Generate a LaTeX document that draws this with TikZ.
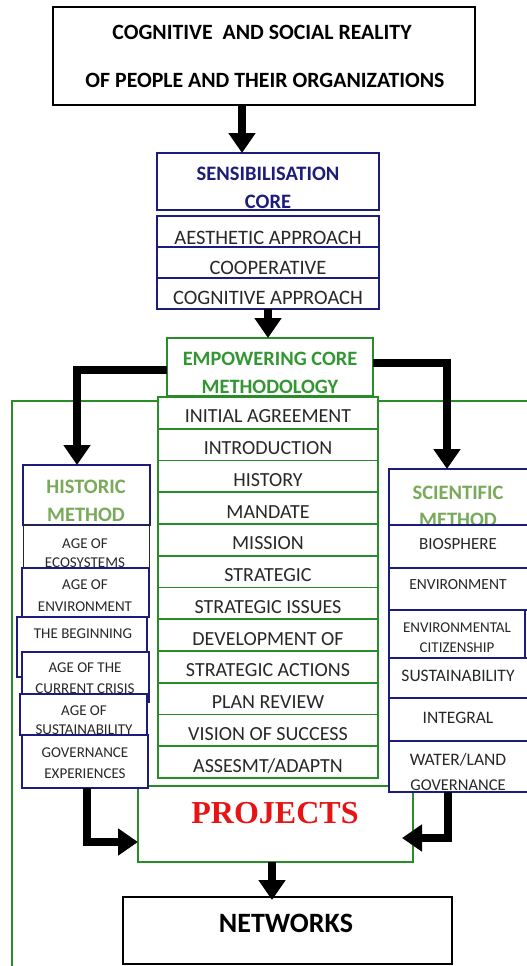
\documentclass[tikz,border=0pt]{standalone}
\usepackage{fontspec}
\setmainfont{Carlito}
\newfontfamily\projfont{Liberation Serif}
\usetikzlibrary{arrows.meta}
\definecolor{navy}{RGB}{28,28,125}
\definecolor{gr}{RGB}{40,140,40}
\definecolor{emptxt}{RGB}{50,150,50}
\definecolor{histtxt}{RGB}{120,170,90}
\definecolor{txtgray}{RGB}{40,40,40}
\definecolor{projred}{RGB}{230,20,20}
\begin{document}
\begin{tikzpicture}[x=1pt,y=-1pt,
  box/.style={draw,fill=white,inner sep=0pt,outer sep=0pt},
  nbox/.style={box,draw=navy,line width=1.8pt},
  gbox/.style={box,draw=gr,line width=1.8pt},
  kbox/.style={box,draw=black,line width=2.2pt},
  lbl/.style={inner sep=0pt,text=txtgray,font=\fontsize{#1}{#1}\selectfont},
  lbl/.default=20,
  hdr/.style={inner sep=0pt,font=\bfseries\fontsize{#1}{#1}\selectfont},
  bigarrow/.style={draw=black,line width=8pt,-{Triangle[width=26pt,length=20pt]}}]
\useasboundingbox (0,0) rectangle (527,966);
% big green frame
\draw[gr,line width=1.8pt] (12,990) -- (12,401) -- (560,401);
% top box
\node[kbox,minimum width=422pt,minimum height=98pt] (top) at (264,56) {};
\node[hdr=21.8] (top1) at (262,32) {COGNITIVE\ \ AND SOCIAL REALITY};
\node[hdr=21.8] (top2) at (265,80) {OF PEOPLE AND THEIR ORGANIZATIONS};
% sensibilisation
\node[nbox,minimum width=222pt,minimum height=57pt] (sens) at (268,181.5) {};
\node[hdr=20.5,text=navy] (sens1) at (268,174) {SENSIBILISATION};
\node[hdr=20.5,text=navy] (sens2) at (268,202) {CORE};
\node[nbox,minimum width=222pt,minimum height=31pt] (s1) at (268,231.5) {};
\node[nbox,minimum width=222pt,minimum height=31pt] (s2) at (268,262.5) {};
\node[nbox,minimum width=222pt,minimum height=31pt] (s3) at (268,293.5) {};
\node[lbl=20.5] (s1t) at (268,238) {AESTHETIC APPROACH};
\node[lbl=20.5] (s2t) at (268,268) {COOPERATIVE};
\node[lbl=20.5] (s3t) at (268,298) {COGNITIVE APPROACH};
% empowering
\node[gbox,minimum width=206pt,minimum height=58pt] (emp) at (270,367) {};
\node[hdr=20.4,text=emptxt] (emp1) at (270,359) {EMPOWERING CORE};
\node[hdr=20.4,text=emptxt] (emp2) at (270,387) {METHODOLOGY};
% center column
\foreach \t [count=\i] in {INITIAL AGREEMENT,INTRODUCTION,HISTORY,MANDATE,MISSION,STRATEGIC,STRATEGIC ISSUES,DEVELOPMENT OF,STRATEGIC ACTIONS,PLAN REVIEW,VISION OF SUCCESS,ASSESMT/ADAPTN}{
  \node[gbox,minimum width=220pt,minimum height=31.75pt] (c\i) at (268,{397+31.75*(\i-0.5)}) {};
  \node[lbl=20] (c\i t) at (268,{400.5+31.75*(\i-0.5)}) {\t};
}
% projects
\node[gbox,minimum width=275pt,minimum height=76pt] (proj) at (275.5,824) {};
\node[inner sep=0pt,text=projred,font=\projfont\bfseries\fontsize{32}{32}\selectfont] (projt) at (275,813) {PROJECTS};
% networks
\node[box,draw=black,line width=1.8pt,minimum width=329pt,minimum height=67pt] (net) at (287.5,930.5) {};
\node[hdr=28] (nett) at (286,923) {NETWORKS};
% left column
\node[nbox,minimum width=127pt,minimum height=60pt] (hist) at (86.5,495) {};
\node[hdr=20.5,text=histtxt] (hist1) at (86,487) {HISTORIC};
\node[hdr=20.5,text=histtxt] (hist2) at (86,515) {METHOD};
\node[box,draw=txtgray,line width=0.8pt,minimum width=126pt,minimum height=50pt] (l1) at (86,550) {};
\node[lbl=15] (l1a) at (85,544) {AGE OF};
\node[lbl=15] (l1b) at (85,563) {ECOSYSTEMS};
\node[nbox,minimum width=127pt,minimum height=49pt] (l2) at (85.5,592.5) {};
\node[lbl=15] (l2a) at (85,585) {AGE OF};
\node[lbl=15] (l2b) at (85,607) {ENVIRONMENT};
\node[nbox,minimum width=130pt,minimum height=60pt] (l3) at (82,647) {};
\node[lbl=15] (l3a) at (83,634) {THE BEGINNING};
\node[nbox,minimum width=127pt,minimum height=50pt] (l4) at (85.5,677) {};
\node[lbl=15] (l4a) at (85,668) {AGE OF THE};
\node[lbl=15] (l4b) at (85,689) {CURRENT CRISIS};
\node[nbox,minimum width=127pt,minimum height=41pt] (l5) at (83.5,714.5) {};
\node[lbl=15] (l5a) at (84,711) {AGE OF};
\node[lbl=15] (l5b) at (84,730) {SUSTAINABILITY};
\node[nbox,minimum width=126pt,minimum height=53pt] (l6) at (85,761.5) {};
\node[lbl=15] (l6a) at (85,753) {GOVERNANCE};
\node[lbl=15] (l6b) at (85,774) {EXPERIENCES};
% right column
\node[nbox,minimum width=139pt,minimum height=56pt] (sci) at (458.5,497) {};
\node[hdr=20.5,text=histtxt] (sci1) at (458,493) {SCIENTIFIC};
\node[hdr=20.5,text=histtxt] (sci2) at (458,520) {METHOD};
\node[nbox,minimum width=139pt,minimum height=43pt] (r1) at (458.5,546.5) {};
\node[lbl=17] (r1a) at (458,544) {BIOSPHERE};
\node[nbox,minimum width=139pt,minimum height=42pt] (r2) at (458.5,589) {};
\node[lbl=15.5] (r2a) at (458,585) {ENVIRONMENT};
\node[nbox,minimum width=136pt,minimum height=48pt] (r3) at (457,634) {};
\node[lbl=15] (r3a) at (457,628) {ENVIRONMENTAL};
\node[lbl=15] (r3b) at (457,648) {CITIZENSHIP};
\node[nbox,minimum width=139pt,minimum height=40pt] (r4) at (458.5,678) {};
\node[lbl=17.5] (r4a) at (458,676) {SUSTAINABILITY};
\node[nbox,minimum width=139pt,minimum height=43pt] (r5) at (458.5,719.5) {};
\node[lbl=17.5] (r5a) at (458,718) {INTEGRAL};
\node[nbox,minimum width=139pt,minimum height=51pt] (r6) at (458.5,766.5) {};
\node[lbl=17.5] (r6a) at (458,760) {WATER/LAND};
\node[lbl=16.5] (r6b) at (458,785) {GOVERNANCE};
% arrows
\draw[bigarrow] ([xshift=-22pt]top.south) -- ([xshift=-26pt]sens.north);
\draw[bigarrow] (s3.south) -- ([xshift=-2pt]emp.north);
\draw[bigarrow] ([yshift=-3pt]emp.west) -| ([xshift=-9.5pt]hist.north);
\draw[bigarrow] ([yshift=4pt]emp.east) -| ([xshift=-11.5pt]sci.north);
\draw[bigarrow] ([xshift=2pt]l6.south) |- ([yshift=-18pt]proj.west);
\draw[bigarrow] ([xshift=-10.5pt]r6.south) |- ([xshift=-11pt,yshift=-14pt]proj.east);
\draw[bigarrow] ([xshift=-3.5pt]proj.south) -- ([xshift=-15.5pt,yshift=-3pt]net.north);
\end{tikzpicture}
\end{document}
